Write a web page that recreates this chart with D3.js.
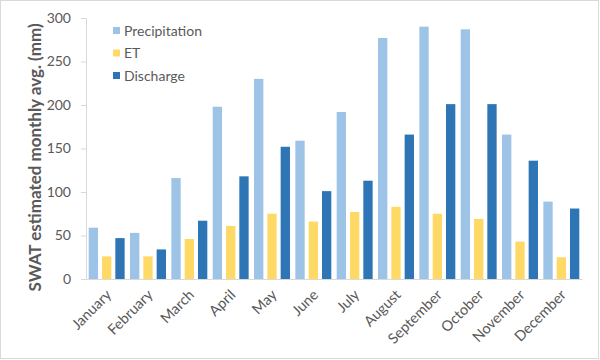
<!DOCTYPE html>
<html>
<head>
<meta charset="utf-8">
<script src="https://cdn.jsdelivr.net/npm/d3@7"></script>
<style>
  body { margin: 0; background: #fff; }
  text { font-family: Lato, "Open Sans", sans-serif; }
</style>
</head>
<body>
<script>
// Chart data
const months = ["January", "February", "March", "April", "May", "June",
    "July", "August", "September", "October", "November", "December"];
const seriesNames = ["Precipitation", "ET", "Discharge"];
const precipitation = [59, 53, 116, 198, 230, 159, 192, 277, 290, 287, 166, 89];
const et = [26, 26, 46, 61, 75, 66, 77, 83, 75, 69, 43, 25];
const discharge = [47, 34, 67, 118, 152, 101, 113, 166, 201, 201, 136, 81];
const yTicks = [0, 50, 100, 150, 200, 250, 300];

const colors = ["#9dc3e6", "#ffd966", "#2e75b6"];
const textColor = "#595959";

const width = 600, height = 360;
const margin = {top: 18, right: 18, bottom: 81, left: 86};

const svg = d3.select("body").append("svg")
    .attr("width", width)
    .attr("height", height);

// Chart border
svg.append("rect")
    .attr("x", 0.5).attr("y", 0.5)
    .attr("width", width - 2).attr("height", height - 2)
    .attr("fill", "#fff")
    .attr("stroke", "#d9d9d9");

const x = d3.scaleBand()
    .domain(months)
    .range([margin.left, width - margin.right])
    .paddingInner(0.13)
    .paddingOuter(0.065);

const xSub = d3.scaleBand()
    .domain(seriesNames)
    .range([0, x.bandwidth()])
    .paddingInner(0.3);

const y = d3.scaleLinear()
    .domain([0, 300])
    .range([height - margin.bottom, margin.top]);

// Y axis
const yAxis = svg.append("g")
    .attr("transform", `translate(${margin.left},0)`)
    .call(d3.axisLeft(y).tickValues(yTicks).tickSize(5).tickPadding(10));
yAxis.select(".domain").attr("stroke", "#d9d9d9");
yAxis.selectAll(".tick line").attr("stroke", "#d9d9d9");
yAxis.selectAll(".tick text")
    .attr("fill", textColor)
    .style("font-size", "14px")
    .style("font-family", "Lato, sans-serif");

// Bars
const table = months.map((m, i) => ({
    month: m,
    values: [precipitation[i], et[i], discharge[i]]
}));

const groups = svg.append("g").selectAll("g")
    .data(table)
    .join("g")
    .attr("transform", d => `translate(${x(d.month)},0)`);

groups.selectAll("rect")
    .data(d => d.values.map((v, j) => ({name: seriesNames[j], value: v, j: j})))
    .join("rect")
    .attr("x", d => xSub(d.name))
    .attr("y", d => y(d.value))
    .attr("width", xSub.bandwidth())
    .attr("height", d => y(0) - y(d.value))
    .attr("fill", d => colors[d.j]);

// X axis
const xAxis = svg.append("g")
    .attr("transform", `translate(0,${y(0)})`)
    .call(d3.axisBottom(x).tickSize(0).tickPadding(8));
xAxis.select(".domain").attr("stroke", "#d9d9d9");
xAxis.selectAll(".tick text")
    .attr("fill", textColor)
    .style("font-size", "14.5px")
    .style("font-family", "Lato, sans-serif")
    .attr("text-anchor", "end")
    .attr("dy", "0.3em")
    .attr("transform", "translate(-3,8) rotate(-45)");

// Y axis title
svg.append("text")
    .attr("transform", `translate(41,${(margin.top + y(0)) / 2 + 9}) rotate(-90)`)
    .attr("text-anchor", "middle")
    .attr("fill", textColor)
    .attr("font-size", 17)
    .attr("font-weight", "bold")
    .text("SWAT estimated monthly avg. (mm)");

// Legend
const legend = svg.append("g")
    .attr("transform", "translate(113,31)");
const items = legend.selectAll("g")
    .data(seriesNames)
    .join("g")
    .attr("transform", (d, i) => `translate(0,${i * 22.5})`);
items.append("rect")
    .attr("x", 0).attr("y", -4)
    .attr("width", 7).attr("height", 7)
    .attr("fill", (d, i) => colors[i]);
items.append("text")
    .attr("x", 11)
    .attr("dy", "0.35em")
    .attr("fill", textColor)
    .attr("font-size", 14)
    .text(d => d);
</script>
</body>
</html>
